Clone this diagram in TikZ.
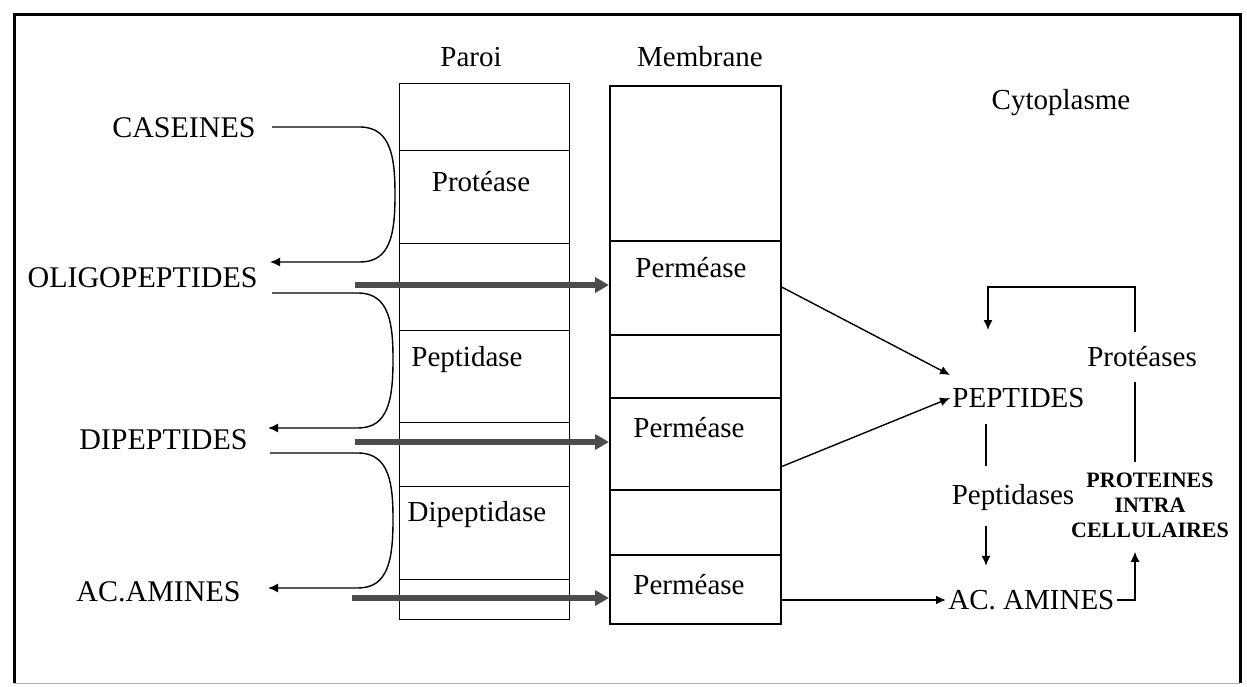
\documentclass[tikz,border=0pt]{standalone}
\usepackage{fontspec}
\setmainfont{Liberation Serif}
\usetikzlibrary{arrows.meta}

\tikzset{
  lbl/.style={font=\fontsize{15}{17}\selectfont, inner sep=1pt},
  txt/.style={font=\fontsize{14.5}{17}\selectfont, inner sep=1pt},
  cell/.style={draw, line width=0.6pt, minimum width=85pt, anchor=north west, inner sep=0pt},
  flowline/.style={line width=0.7pt, -{Latex[length=5pt,width=4.5pt]}},
  bigarrow/.style={line width=3pt, draw=black!70, -{Triangle[length=7pt,width=7.5pt]}}
}

\begin{document}
\begin{tikzpicture}[x=0.5pt,y=-0.5pt]
\useasboundingbox (0,0) rectangle (1247,686);
% frame
\draw[line width=1.5pt] (14,683) -- (14,14) -- (1240,14) -- (1240,683);
\draw[line width=0.5pt, black!30] (14,683) -- (1240,683);

% paroi
\foreach \name/\top/\h in {p1/83/33.5, p2/150/46.5, p3/243/43.5, p4/330/46, p5/422/32, p6/486/46.5, p7/579/20}
  \node[cell, minimum height=\h pt] (\name) at (399,\top) {};
% membrane
\foreach \name/\top/\h in {m1/85/77.5, m2/240/47, m3/334/31.5, m4/397/46, m5/489/32.5, m6/554/34.5}
  \node[cell, line width=0.8pt, minimum width=85.5pt, minimum height=\h pt] (\name) at (609,\top) {};

\node[txt] (paroi) at (471,57) {Paroi};
\node[txt] (membrane) at (700,57) {Membrane};
\node[txt] (cyto) at (1061,103) {Cytoplasme};

\node[txt] (protease) at (481,182) {Protéase};
\node[txt] (peptidase) at (467,360) {Peptidase};
\node[txt] (dipeptidase) at (477,515) {Dipeptidase};
\node[txt] (perm1) at (691,268) {Perméase};
\node[txt] (perm2) at (689,428) {Perméase};
\node[txt] (perm3) at (689,585) {Perméase};

% exterieur
\node[lbl, anchor=east] (caseines) at (258,128) {CASEINES};
\node[lbl, anchor=east] (oligo) at (260,278) {OLIGOPEPTIDES};
\node[lbl, anchor=east] (dipep) at (250,440) {DIPEPTIDES};
\node[lbl, anchor=east] (acleft) at (243,592) {AC.AMINES};

% cytoplasme
\node[txt, anchor=west] (peptides) at (950,398) {PEPTIDES};
\node[txt, anchor=west] (acright) at (946,600) {AC. AMINES};
\node[txt] (peptidases) at (1013,498) {Peptidases};
\node[txt] (proteases) at (1142,357) {Protéases};
\node[font=\bfseries\fontsize{11}{12.5}\selectfont, align=center, inner sep=1pt] (proteines) at (1150,505) {PROTEINES\\INTRA\\CELLULAIRES};

% hydrolyse dans la paroi
\draw[flowline, shorten <=7pt] (caseines.east |- 0,127) -- (360,127) .. controls (392,127) and (395,160) .. (395,195)
  .. controls (395,235) and (390,262) .. (360,262) -- (270,262);
\draw[flowline, shorten <=6pt] (oligo.east |- 0,293) -- (358,293) .. controls (390,293) and (393,325) .. (393,360)
  .. controls (393,400) and (388,428) .. (358,428) -- (268,428);
\draw[flowline, shorten <=10pt] (dipep.east |- 0,453) -- (358,453) .. controls (390,453) and (393,485) .. (393,520)
  .. controls (393,560) and (388,588) .. (358,588) -- (268,588);

% transport
\coordinate (in1) at (355,285);
\coordinate (in2) at (355,442);
\coordinate (in3) at (352,598);
\draw[bigarrow] (in1) -- (in1 -| m2.west);
\draw[bigarrow] (in2) -- (in2 -| m4.west);
\draw[bigarrow] (in3) -- (in3 -| m6.west);

\draw[flowline] ([yshift=-23.5pt]m2.north east) -- ([yshift=11.5pt]peptides.west);
\draw[flowline] ([yshift=12pt]m4.south east) -- (peptides.west);
\draw[flowline, line width=1pt] (acright.west -| m6.east) -- (acright.west);

% dans le cytoplasme
\draw[line width=0.7pt, shorten <=7pt, shorten >=8pt] (peptides.south -| 986,0) -- (peptidases.north -| 986,0);
\draw[flowline, shorten <=6pt, shorten >=11pt] (peptidases.south -| 986,0) -- (acright.north -| 986,0);
\draw[flowline] (acright.east) -| ([yshift=-6pt]proteines.south -| 1135,0);
\draw[line width=0.7pt, shorten <=4pt, shorten >=6pt] (proteines.north -| 1135,0) -- (proteases.south -| 1135,0);
\draw[flowline] ([yshift=6pt]proteases.north -| 1135,0) -- (1135,287) -- (988,287) -- (988,330);
\end{tikzpicture}
\end{document}
